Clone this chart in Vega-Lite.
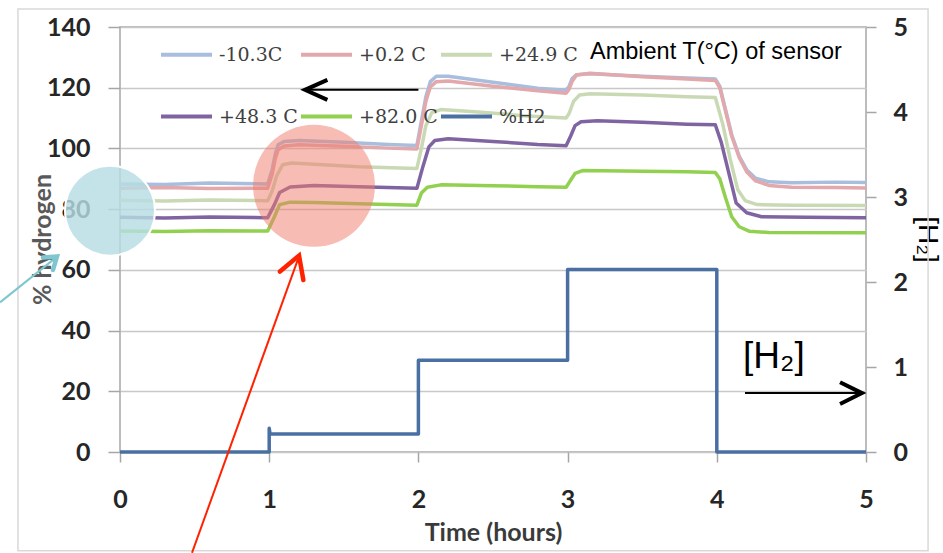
{
  "$schema": "https://vega.github.io/schema/vega-lite/v6.json",
  "width": 746,
  "height": 425,
  "autosize": {"type": "none"},
  "padding": {"left": 120, "top": 27, "right": 77, "bottom": 101},
  "background": "#ffffff",
  "config": {
    "view": {"stroke": "#a6a6a6", "strokeWidth": 1.5},
    "axis": {"labelFont": "Lato", "labelFontWeight": "bold", "labelFontSize": 25, "labelColor": "#262626", "labelFlush": false, "labelOverlap": false, "tickColor": "#a6a6a6", "tickWidth": 1.5, "domain": false, "titleFont": "Lato", "titleFontWeight": "bold", "titleFontSize": 25}
  },
  "datasets": {
    "series": [
      {"s": "-10.3C", "t": 0, "v": 88.3}, {"s": "-10.3C", "t": 0.3, "v": 88.1}, {"s": "-10.3C", "t": 0.6, "v": 88.6}, {"s": "-10.3C", "t": 0.99, "v": 88.3},
      {"s": "-10.3C", "t": 1.02, "v": 93}, {"s": "-10.3C", "t": 1.04, "v": 98}, {"s": "-10.3C", "t": 1.06, "v": 101.2}, {"s": "-10.3C", "t": 1.1, "v": 102.3},
      {"s": "-10.3C", "t": 1.2, "v": 102.6}, {"s": "-10.3C", "t": 1.5, "v": 102}, {"s": "-10.3C", "t": 1.8, "v": 101.3}, {"s": "-10.3C", "t": 1.99, "v": 101},
      {"s": "-10.3C", "t": 2.02, "v": 109}, {"s": "-10.3C", "t": 2.05, "v": 117}, {"s": "-10.3C", "t": 2.08, "v": 122}, {"s": "-10.3C", "t": 2.12, "v": 123.8},
      {"s": "-10.3C", "t": 2.2, "v": 123.8}, {"s": "-10.3C", "t": 2.5, "v": 121.8}, {"s": "-10.3C", "t": 2.8, "v": 119.8}, {"s": "-10.3C", "t": 2.99, "v": 119.2},
      {"s": "-10.3C", "t": 3.01, "v": 120.5}, {"s": "-10.3C", "t": 3.03, "v": 123}, {"s": "-10.3C", "t": 3.06, "v": 124.3}, {"s": "-10.3C", "t": 3.15, "v": 124.6},
      {"s": "-10.3C", "t": 3.5, "v": 123.8}, {"s": "-10.3C", "t": 3.8, "v": 123.2}, {"s": "-10.3C", "t": 3.99, "v": 122.9}, {"s": "-10.3C", "t": 4.02, "v": 120.5},
      {"s": "-10.3C", "t": 4.06, "v": 112.5}, {"s": "-10.3C", "t": 4.1, "v": 104.5}, {"s": "-10.3C", "t": 4.15, "v": 97.5}, {"s": "-10.3C", "t": 4.2, "v": 93},
      {"s": "-10.3C", "t": 4.26, "v": 90.2}, {"s": "-10.3C", "t": 4.35, "v": 89}, {"s": "-10.3C", "t": 4.5, "v": 88.7}, {"s": "-10.3C", "t": 4.8, "v": 88.9}, {"s": "-10.3C", "t": 5, "v": 88.8},

      {"s": "+0.2 C", "t": 0, "v": 86.9}, {"s": "+0.2 C", "t": 0.3, "v": 87.1}, {"s": "+0.2 C", "t": 0.6, "v": 86.8}, {"s": "+0.2 C", "t": 0.99, "v": 86.9},
      {"s": "+0.2 C", "t": 1.02, "v": 91.5}, {"s": "+0.2 C", "t": 1.04, "v": 96.5}, {"s": "+0.2 C", "t": 1.06, "v": 99.6}, {"s": "+0.2 C", "t": 1.1, "v": 100.8},
      {"s": "+0.2 C", "t": 1.2, "v": 101.2}, {"s": "+0.2 C", "t": 1.5, "v": 100.7}, {"s": "+0.2 C", "t": 1.8, "v": 100.1}, {"s": "+0.2 C", "t": 1.99, "v": 99.8},
      {"s": "+0.2 C", "t": 2.02, "v": 107.5}, {"s": "+0.2 C", "t": 2.05, "v": 115.5}, {"s": "+0.2 C", "t": 2.08, "v": 120.3}, {"s": "+0.2 C", "t": 2.12, "v": 122},
      {"s": "+0.2 C", "t": 2.2, "v": 122.2}, {"s": "+0.2 C", "t": 2.5, "v": 120.5}, {"s": "+0.2 C", "t": 2.8, "v": 119}, {"s": "+0.2 C", "t": 2.99, "v": 118.2},
      {"s": "+0.2 C", "t": 3.01, "v": 119.5}, {"s": "+0.2 C", "t": 3.03, "v": 122}, {"s": "+0.2 C", "t": 3.06, "v": 124.2}, {"s": "+0.2 C", "t": 3.15, "v": 124.8},
      {"s": "+0.2 C", "t": 3.5, "v": 123.6}, {"s": "+0.2 C", "t": 3.8, "v": 122.9}, {"s": "+0.2 C", "t": 3.99, "v": 122.4}, {"s": "+0.2 C", "t": 4.02, "v": 120},
      {"s": "+0.2 C", "t": 4.06, "v": 112}, {"s": "+0.2 C", "t": 4.1, "v": 104}, {"s": "+0.2 C", "t": 4.15, "v": 97}, {"s": "+0.2 C", "t": 4.2, "v": 92.3},
      {"s": "+0.2 C", "t": 4.26, "v": 89.3}, {"s": "+0.2 C", "t": 4.35, "v": 87.8}, {"s": "+0.2 C", "t": 4.5, "v": 87.2}, {"s": "+0.2 C", "t": 4.8, "v": 87.1}, {"s": "+0.2 C", "t": 5, "v": 87},

      {"s": "+24.9 C", "t": 0, "v": 82.9}, {"s": "+24.9 C", "t": 0.3, "v": 82.7}, {"s": "+24.9 C", "t": 0.6, "v": 83}, {"s": "+24.9 C", "t": 0.99, "v": 82.8},
      {"s": "+24.9 C", "t": 1.02, "v": 86}, {"s": "+24.9 C", "t": 1.05, "v": 91}, {"s": "+24.9 C", "t": 1.09, "v": 94.6}, {"s": "+24.9 C", "t": 1.15, "v": 95.2},
      {"s": "+24.9 C", "t": 1.3, "v": 94.8}, {"s": "+24.9 C", "t": 1.6, "v": 94}, {"s": "+24.9 C", "t": 1.99, "v": 93.4}, {"s": "+24.9 C", "t": 2.02, "v": 100},
      {"s": "+24.9 C", "t": 2.05, "v": 107.5}, {"s": "+24.9 C", "t": 2.09, "v": 111.8}, {"s": "+24.9 C", "t": 2.15, "v": 112.8}, {"s": "+24.9 C", "t": 2.4, "v": 112},
      {"s": "+24.9 C", "t": 2.7, "v": 110.8}, {"s": "+24.9 C", "t": 2.99, "v": 110}, {"s": "+24.9 C", "t": 3.01, "v": 111.5}, {"s": "+24.9 C", "t": 3.04, "v": 115.5},
      {"s": "+24.9 C", "t": 3.08, "v": 117.6}, {"s": "+24.9 C", "t": 3.15, "v": 118}, {"s": "+24.9 C", "t": 3.5, "v": 117.6}, {"s": "+24.9 C", "t": 3.8, "v": 117},
      {"s": "+24.9 C", "t": 3.99, "v": 116.8}, {"s": "+24.9 C", "t": 4.04, "v": 108}, {"s": "+24.9 C", "t": 4.09, "v": 96.5}, {"s": "+24.9 C", "t": 4.14, "v": 86.5},
      {"s": "+24.9 C", "t": 4.19, "v": 82.8}, {"s": "+24.9 C", "t": 4.27, "v": 81.5}, {"s": "+24.9 C", "t": 4.5, "v": 81.3}, {"s": "+24.9 C", "t": 5, "v": 81.2},

      {"s": "+48.3 C", "t": 0, "v": 77.3}, {"s": "+48.3 C", "t": 0.3, "v": 77.1}, {"s": "+48.3 C", "t": 0.6, "v": 77.4}, {"s": "+48.3 C", "t": 0.99, "v": 77.2},
      {"s": "+48.3 C", "t": 1.035, "v": 81.5}, {"s": "+48.3 C", "t": 1.07, "v": 85.5}, {"s": "+48.3 C", "t": 1.14, "v": 87.3}, {"s": "+48.3 C", "t": 1.3, "v": 87.8},
      {"s": "+48.3 C", "t": 1.6, "v": 87.4}, {"s": "+48.3 C", "t": 1.99, "v": 86.9}, {"s": "+48.3 C", "t": 2.03, "v": 94}, {"s": "+48.3 C", "t": 2.07, "v": 100.5},
      {"s": "+48.3 C", "t": 2.11, "v": 102.6}, {"s": "+48.3 C", "t": 2.2, "v": 103.2}, {"s": "+48.3 C", "t": 2.5, "v": 102.3}, {"s": "+48.3 C", "t": 2.8, "v": 101.3},
      {"s": "+48.3 C", "t": 2.99, "v": 100.9}, {"s": "+48.3 C", "t": 3.02, "v": 104}, {"s": "+48.3 C", "t": 3.05, "v": 107.5}, {"s": "+48.3 C", "t": 3.09, "v": 108.8},
      {"s": "+48.3 C", "t": 3.2, "v": 109.1}, {"s": "+48.3 C", "t": 3.5, "v": 108.6}, {"s": "+48.3 C", "t": 3.8, "v": 108}, {"s": "+48.3 C", "t": 3.99, "v": 107.8},
      {"s": "+48.3 C", "t": 4.03, "v": 102}, {"s": "+48.3 C", "t": 4.07, "v": 94}, {"s": "+48.3 C", "t": 4.13, "v": 82}, {"s": "+48.3 C", "t": 4.2, "v": 78.8},
      {"s": "+48.3 C", "t": 4.3, "v": 77.5}, {"s": "+48.3 C", "t": 4.6, "v": 77.3}, {"s": "+48.3 C", "t": 5, "v": 77.2},

      {"s": "+82.0 C", "t": 0, "v": 72.8}, {"s": "+82.0 C", "t": 0.3, "v": 72.6}, {"s": "+82.0 C", "t": 0.6, "v": 72.9}, {"s": "+82.0 C", "t": 0.99, "v": 72.8},
      {"s": "+82.0 C", "t": 1.035, "v": 77.5}, {"s": "+82.0 C", "t": 1.07, "v": 81.5}, {"s": "+82.0 C", "t": 1.14, "v": 82.3}, {"s": "+82.0 C", "t": 1.3, "v": 82.2},
      {"s": "+82.0 C", "t": 1.6, "v": 81.8}, {"s": "+82.0 C", "t": 1.99, "v": 81.3}, {"s": "+82.0 C", "t": 2.02, "v": 85.3}, {"s": "+82.0 C", "t": 2.06, "v": 87.2},
      {"s": "+82.0 C", "t": 2.15, "v": 88}, {"s": "+82.0 C", "t": 2.5, "v": 87.7}, {"s": "+82.0 C", "t": 2.8, "v": 87.4}, {"s": "+82.0 C", "t": 2.99, "v": 87.2},
      {"s": "+82.0 C", "t": 3.02, "v": 89.5}, {"s": "+82.0 C", "t": 3.05, "v": 91.8}, {"s": "+82.0 C", "t": 3.1, "v": 92.7}, {"s": "+82.0 C", "t": 3.5, "v": 92.5},
      {"s": "+82.0 C", "t": 3.8, "v": 92.3}, {"s": "+82.0 C", "t": 3.99, "v": 92.1}, {"s": "+82.0 C", "t": 4.02, "v": 90}, {"s": "+82.0 C", "t": 4.06, "v": 83.5},
      {"s": "+82.0 C", "t": 4.1, "v": 77.5}, {"s": "+82.0 C", "t": 4.15, "v": 74.2}, {"s": "+82.0 C", "t": 4.22, "v": 72.7}, {"s": "+82.0 C", "t": 4.35, "v": 72.3}, {"s": "+82.0 C", "t": 5, "v": 72.2},

      {"s": "%H2", "t": 0, "v": 0}, {"s": "%H2", "t": 1, "v": 0}, {"s": "%H2", "t": 1, "v": 7.8}, {"s": "%H2", "t": 1.006, "v": 5.9},
      {"s": "%H2", "t": 2, "v": 5.9}, {"s": "%H2", "t": 2, "v": 30.2}, {"s": "%H2", "t": 3, "v": 30.2}, {"s": "%H2", "t": 3, "v": 60.1},
      {"s": "%H2", "t": 4, "v": 60.1}, {"s": "%H2", "t": 4, "v": 0}, {"s": "%H2", "t": 5, "v": 0}
    ],
    "arrows": [
      {"a": "left", "p": "shaft", "t": 2.0, "v": 119.3}, {"a": "left", "p": "shaft", "t": 1.245, "v": 119.3},
      {"a": "left", "p": "head", "t": 1.39, "v": 122.6}, {"a": "left", "p": "head", "t": 1.24, "v": 119.3}, {"a": "left", "p": "head", "t": 1.39, "v": 116.0},
      {"a": "right", "p": "shaft", "t": 4.189, "v": 19.4}, {"a": "right", "p": "shaft", "t": 4.965, "v": 19.4},
      {"a": "right", "p": "head", "t": 4.826, "v": 23.0}, {"a": "right", "p": "head", "t": 4.973, "v": 19.4}, {"a": "right", "p": "head", "t": 4.826, "v": 15.8},
      {"a": "red", "p": "shaft", "t": 0.4826, "v": -33.2}, {"a": "red", "p": "shaft", "t": 1.198, "v": 64.2},
      {"a": "red", "p": "head", "t": 1.072, "v": 59.46}, {"a": "red", "p": "head", "t": 1.2, "v": 64.7}, {"a": "red", "p": "head", "t": 1.229, "v": 56.65},
      {"a": "cyan", "p": "shaft", "t": -0.804, "v": 49.29}, {"a": "cyan", "p": "shaft", "t": -0.425, "v": 64.2},
      {"a": "cyan", "p": "head", "t": -0.516, "v": 64.08}, {"a": "cyan", "p": "head", "t": -0.4223, "v": 64.41}, {"a": "cyan", "p": "head", "t": -0.449, "v": 59.97}
    ]
  },
  "layer": [
    {
      "layer": [
        {
          "data": {"values": [{"t": -0.684, "v": 145.9, "t2": 5.416, "v2": -32.5}]},
          "mark": {"type": "rect", "fill": null, "stroke": "#d9d9d9", "strokeWidth": 1.5},
          "encoding": {
            "x": {"field": "t", "type": "quantitative", "scale": {"domain": [0, 5], "nice": false, "zero": false}},
            "x2": {"field": "t2"},
            "y": {"field": "v", "type": "quantitative", "scale": {"domain": [0, 140], "nice": false, "zero": false}},
            "y2": {"field": "v2"}
          }
        },
        {
          "data": {"name": "series"},
          "mark": {"type": "line", "strokeWidth": 3.5, "strokeJoin": "round"},
          "encoding": {
            "x": {"field": "t", "type": "quantitative", "scale": {"domain": [0, 5], "nice": false, "zero": false},
              "axis": {"values": [0, 1, 2, 3, 4, 5], "format": "d", "grid": false, "tickSize": 10, "labelPadding": 25, "title": "Time (hours)", "titleColor": "#3a3a3a", "titleX": 373, "titleY": 88, "titleAlign": "center", "titleBaseline": "alphabetic"}},
            "y": {"field": "v", "type": "quantitative", "scale": {"domain": [0, 140], "nice": false, "zero": false},
              "axis": {"values": [0, 20, 40, 60, 80, 100, 120, 140], "grid": true, "gridColor": "#c8c8c8", "gridWidth": 1.5, "tickSize": 12, "labelPadding": 18, "title": "% hydrogen", "titleColor": "#595959", "titleX": -78, "titleY": 212, "titleAlign": "center", "titleBaseline": "middle"}},
            "color": {"field": "s", "type": "nominal",
              "scale": {"domain": ["-10.3C", "+0.2 C", "+24.9 C", "+48.3 C", "+82.0 C", "%H2"], "range": ["#a8bedc", "#e2a8ac", "#c9d9b4", "#8064a2", "#92d050", "#4a70a3"]},
              "legend": {"title": null, "orient": "none", "direction": "horizontal", "legendX": 39, "legendY": 0, "columns": 3, "symbolType": "stroke", "symbolSize": 2601, "symbolStrokeWidth": 4, "labelFont": "DejaVu Serif", "labelFontSize": 19, "labelColor": "#404040", "labelOffset": 5, "columnPadding": -5, "rowPadding": 24, "padding": 0}},
            "order": {"value": null}
          }
        },
        {
          "data": {"values": [{"t": -0.067, "v": 79.5}]},
          "mark": {"type": "point", "shape": "circle", "filled": true, "size": 8100, "fill": "#b7dde3", "fillOpacity": 0.82, "opacity": 1, "stroke": "#ffffff", "strokeWidth": 2},
          "encoding": {
            "x": {"field": "t", "type": "quantitative", "scale": {"domain": [0, 5], "nice": false, "zero": false}},
            "y": {"field": "v", "type": "quantitative", "scale": {"domain": [0, 140], "nice": false, "zero": false}}
          }
        },
        {
          "data": {"values": [{"t": 1.3, "v": 87.7}]},
          "mark": {"type": "point", "shape": "circle", "filled": true, "size": 14884, "fill": "#ef7b6b", "fillOpacity": 0.5, "opacity": 1, "strokeWidth": 0},
          "encoding": {
            "x": {"field": "t", "type": "quantitative", "scale": {"domain": [0, 5], "nice": false, "zero": false}},
            "y": {"field": "v", "type": "quantitative", "scale": {"domain": [0, 140], "nice": false, "zero": false}}
          }
        },
        {
          "data": {"name": "arrows"},
          "transform": [{"filter": "(datum.a == 'left' || datum.a == 'right') && datum.p == 'shaft'"}],
          "mark": {"type": "line", "color": "#000000", "strokeWidth": 2},
          "encoding": {
            "x": {"field": "t", "type": "quantitative", "scale": {"domain": [0, 5], "nice": false, "zero": false}},
            "y": {"field": "v", "type": "quantitative", "scale": {"domain": [0, 140], "nice": false, "zero": false}},
            "detail": {"field": "a"},
            "order": {"value": null}
          }
        },
        {
          "data": {"name": "arrows"},
          "transform": [{"filter": "(datum.a == 'left' || datum.a == 'right') && datum.p == 'head'"}],
          "mark": {"type": "line", "color": "#000000", "strokeWidth": 4, "strokeJoin": "miter", "strokeCap": "butt"},
          "encoding": {
            "x": {"field": "t", "type": "quantitative", "scale": {"domain": [0, 5], "nice": false, "zero": false}},
            "y": {"field": "v", "type": "quantitative", "scale": {"domain": [0, 140], "nice": false, "zero": false}},
            "detail": {"field": "a"},
            "order": {"value": null}
          }
        },
        {
          "data": {"name": "arrows"},
          "transform": [{"filter": "datum.a == 'red' && datum.p == 'shaft'"}],
          "mark": {"type": "line", "color": "#ff2200", "strokeWidth": 2},
          "encoding": {
            "x": {"field": "t", "type": "quantitative", "scale": {"domain": [0, 5], "nice": false, "zero": false}},
            "y": {"field": "v", "type": "quantitative", "scale": {"domain": [0, 140], "nice": false, "zero": false}},
            "order": {"value": null}
          }
        },
        {
          "data": {"name": "arrows"},
          "transform": [{"filter": "datum.a == 'red' && datum.p == 'head'"}],
          "mark": {"type": "line", "color": "#ff2200", "strokeWidth": 4.5, "strokeJoin": "miter", "strokeCap": "round"},
          "encoding": {
            "x": {"field": "t", "type": "quantitative", "scale": {"domain": [0, 5], "nice": false, "zero": false}},
            "y": {"field": "v", "type": "quantitative", "scale": {"domain": [0, 140], "nice": false, "zero": false}},
            "order": {"value": null}
          }
        },
        {
          "data": {"name": "arrows"},
          "transform": [{"filter": "datum.a == 'cyan' && datum.p == 'shaft'"}],
          "mark": {"type": "line", "color": "#7ec6d0", "strokeWidth": 2},
          "encoding": {
            "x": {"field": "t", "type": "quantitative", "scale": {"domain": [0, 5], "nice": false, "zero": false}},
            "y": {"field": "v", "type": "quantitative", "scale": {"domain": [0, 140], "nice": false, "zero": false}},
            "order": {"value": null}
          }
        },
        {
          "data": {"name": "arrows"},
          "transform": [{"filter": "datum.a == 'cyan' && datum.p == 'head'"}],
          "mark": {"type": "line", "color": "#7ec6d0", "strokeWidth": 4.5, "strokeJoin": "miter", "strokeCap": "round"},
          "encoding": {
            "x": {"field": "t", "type": "quantitative", "scale": {"domain": [0, 5], "nice": false, "zero": false}},
            "y": {"field": "v", "type": "quantitative", "scale": {"domain": [0, 140], "nice": false, "zero": false}},
            "order": {"value": null}
          }
        },
        {
          "data": {"values": [{"t": 3.15, "v": 129.5, "label": "Ambient T(°C) of sensor"}]},
          "mark": {"type": "text", "font": "Liberation Sans", "fontSize": 23.5, "color": "#000000", "align": "left", "baseline": "alphabetic"},
          "encoding": {
            "x": {"field": "t", "type": "quantitative", "scale": {"domain": [0, 5], "nice": false, "zero": false}},
            "y": {"field": "v", "type": "quantitative", "scale": {"domain": [0, 140], "nice": false, "zero": false}},
            "text": {"field": "label"}
          }
        },
        {
          "data": {"values": [{"t": 4.176, "v": 27.6, "label": "[H₂]"}]},
          "mark": {"type": "text", "font": "Liberation Sans", "fontSize": 37, "color": "#000000", "align": "left", "baseline": "alphabetic"},
          "encoding": {
            "x": {"field": "t", "type": "quantitative", "scale": {"domain": [0, 5], "nice": false, "zero": false}},
            "y": {"field": "v", "type": "quantitative", "scale": {"domain": [0, 140], "nice": false, "zero": false}},
            "text": {"field": "label"}
          }
        }
      ]
    },
    {
      "data": {"values": [{"r": 0}, {"r": 5}]},
      "mark": {"type": "point", "opacity": 0},
      "encoding": {
        "y": {"field": "r", "type": "quantitative", "scale": {"domain": [0, 5], "nice": false, "zero": false},
          "axis": {"orient": "right", "values": [0, 1, 2, 3, 4, 5], "grid": false, "tickSize": 10, "labelPadding": 17, "title": "[H₂]", "titleAngle": 90, "titleFont": "Liberation Sans", "titleFontWeight": "normal", "titleFontSize": 28, "titleColor": "#000000", "titleX": 52, "titleY": 212, "titleAlign": "center", "titleBaseline": "alphabetic"}}
      }
    }
  ],
  "resolve": {"scale": {"y": "independent"}}
}
